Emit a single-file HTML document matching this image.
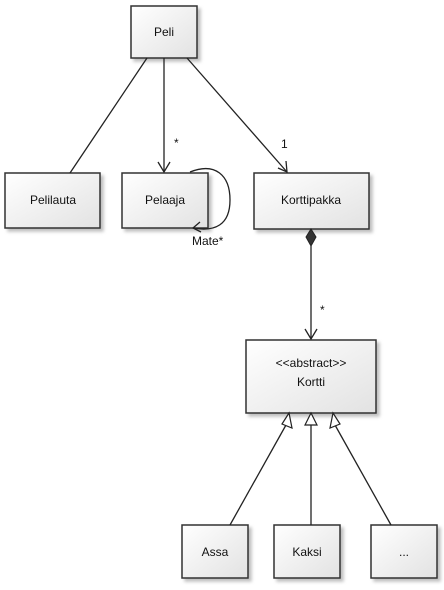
<!DOCTYPE html>
<html><head><style>
body{margin:0;background:#fff;width:444px;height:585px;overflow:hidden}
svg text{font-family:"Liberation Sans",sans-serif;font-size:12px;fill:#111}
</style></head><body>
<svg width="444" height="585" viewBox="0 0 444 585">
<defs>
<linearGradient id="g" x1="0" y1="0" x2="1" y2="1"><stop offset="0" stop-color="#fff"/><stop offset="1" stop-color="#e2e2e2"/></linearGradient>
<filter id="s"><feDropShadow dx="3" dy="3" stdDeviation="1.5" flood-color="#000" flood-opacity="0.25"/></filter>
</defs>
<g fill="url(#g)" stroke="#333" stroke-width="1.5" filter="url(#s)">
<rect x="131" y="6" width="66" height="52"/>
<rect x="5" y="173" width="95" height="55"/>
<rect x="122" y="173" width="86" height="55"/>
<rect x="254" y="173" width="115" height="56"/>
<rect x="246" y="340" width="130" height="73"/>
<rect x="182" y="525" width="66" height="53"/>
<rect x="274" y="525" width="66" height="53"/>
<rect x="371" y="525" width="66" height="53"/>
</g>
<g stroke="#222" stroke-width="1.3" fill="none">
<line x1="147" y1="58" x2="70" y2="173"/>
<line x1="164" y1="58" x2="164" y2="172"/>
<polyline points="158,162 164,172 170,162"/>
<line x1="187" y1="58" x2="287" y2="172"/>
<polyline points="278,168 287,172 286,161"/>
<path d="M190,172 C215,162 230,175 230,200 C230,225 215,232 193,228"/>
<polyline points="200,222 193,228 201,232"/>
<line x1="311" y1="246" x2="311" y2="339"/>
<polyline points="305,329 311,339 317,329"/>
<line x1="230" y1="525" x2="286" y2="425"/>
<line x1="311" y1="525" x2="311" y2="425"/>
<line x1="391" y1="525" x2="335" y2="425"/>
</g>
<polygon points="311,229 316,237 311,246 306,237" fill="#333" stroke="#222"/>
<g fill="#fff" stroke="#222" stroke-width="1.2">
<polygon points="289,413 282,424 292,428"/>
<polygon points="311,413 305,425 317,425"/>
<polygon points="333,413 330,428 340,424"/>
</g>
<g text-anchor="middle">
<text x="164" y="36">Peli</text>
<text x="53" y="204">Pelilauta</text>
<text x="165" y="204">Pelaaja</text>
<text x="311" y="204">Korttipakka</text>
<text x="311" y="367" font-size="11">&lt;&lt;abstract&gt;&gt;</text>
<text x="311" y="386">Kortti</text>
<text x="215" y="556">Assa</text>
<text x="307" y="556">Kaksi</text>
<text x="404" y="556">...</text>
</g>
<text x="174" y="147" font-size="10">*</text>
<text x="281" y="148" font-size="10">1</text>
<text x="320" y="314" font-size="10">*</text>
<text x="192" y="245" font-size="10">Mate*</text>
</svg>
</body></html>
